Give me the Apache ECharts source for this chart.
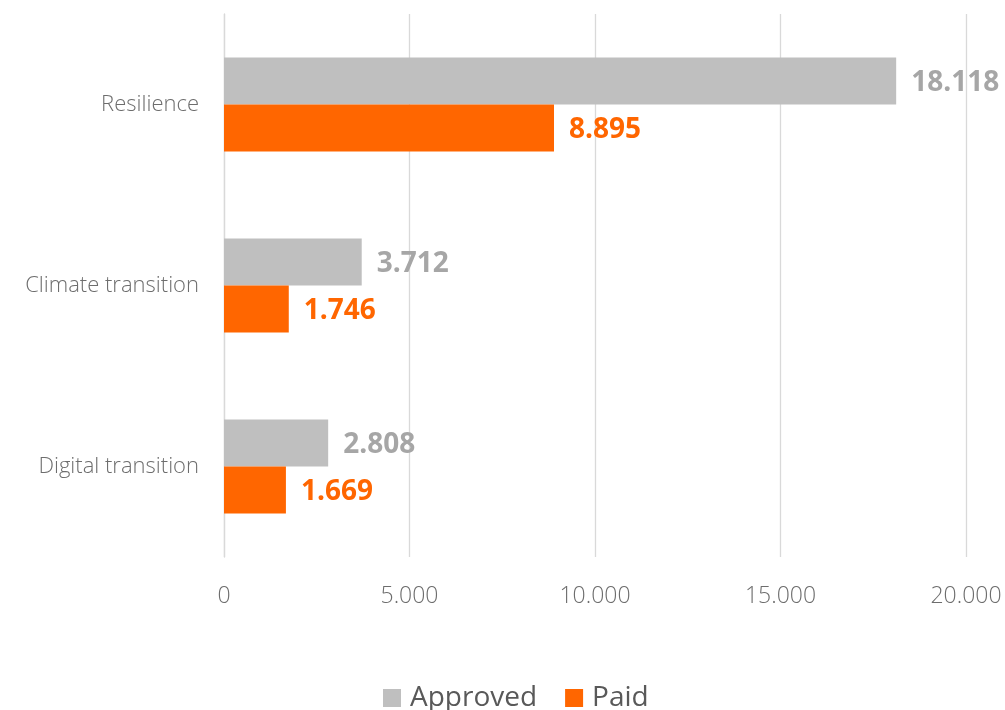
<!DOCTYPE html>
<html><head><meta charset="utf-8">
<script src="https://cdn.jsdelivr.net/npm/echarts@6/dist/echarts.min.js"></script>
<style>html,body{margin:0;padding:0;background:#fff}#c{width:1005px;height:710px}</style>
</head><body><div id="c"></div>
<script>
const categories = ['Resilience', 'Climate transition', 'Digital transition'];
const approved = [18118, 3712, 2808];
const paid = [8895, 1746, 1669];
const xTicks = [0, 5000, 10000, 15000, 20000];

function fmt(v) {
  return String(Math.round(v)).replace(/\B(?=(\d{3})+(?!\d))/g, '.');
}
const FONT = '"Open Sans", "Noto Sans", sans-serif';
const chart = echarts.init(document.getElementById('c'));
chart.setOption({
  animation: false,
  textStyle: { fontFamily: FONT },
  grid: { left: 224, right: 39, top: 14, bottom: 153 },
  legend: {
    bottom: -7,
    left: 378,
    itemWidth: 18, itemHeight: 18, itemGap: 28,
    icon: 'rect',
    textStyle: { fontSize: 28, color: '#595959', fontFamily: FONT, padding: [0, 0, 0, 4] },
    data: ['Approved', 'Paid']
  },
  xAxis: {
    type: 'value',
    min: xTicks[0], max: xTicks[xTicks.length - 1], interval: 5000,
    axisLine: { show: false }, axisTick: { show: false },
    splitLine: { lineStyle: { color: '#d9d9d9', width: 1.3 } },
    axisLabel: { formatter: fmt, fontSize: 23, color: '#6d6d6d', fontWeight: 300, margin: 28, fontFamily: FONT }
  },
  yAxis: {
    type: 'category', data: categories, inverse: true,
    axisLine: { show: true, lineStyle: { color: '#d9d9d9', width: 1.3 } },
    axisTick: { show: false },
    axisLabel: { fontSize: 22, color: '#6d6d6d', fontWeight: 300, margin: 25, fontFamily: FONT }
  },
  series: [
    {
      name: 'Approved', type: 'bar', data: approved, barGap: '0%', barCategoryGap: '48%',
      itemStyle: { color: '#bfbfbf' },
      label: { show: true, position: 'right', distance: 15, offset: [0, 2], formatter: p => fmt(p.value), fontSize: 28, fontWeight: 'bold', color: '#a6a6a6', fontFamily: FONT }
    },
    {
      name: 'Paid', type: 'bar', data: paid, barGap: '0%', barCategoryGap: '48%',
      itemStyle: { color: '#ff6600' },
      label: { show: true, position: 'right', distance: 15, offset: [0, 2], formatter: p => fmt(p.value), fontSize: 28, fontWeight: 'bold', color: '#ff6600', fontFamily: FONT }
    }
  ]
});
</script></body></html>
